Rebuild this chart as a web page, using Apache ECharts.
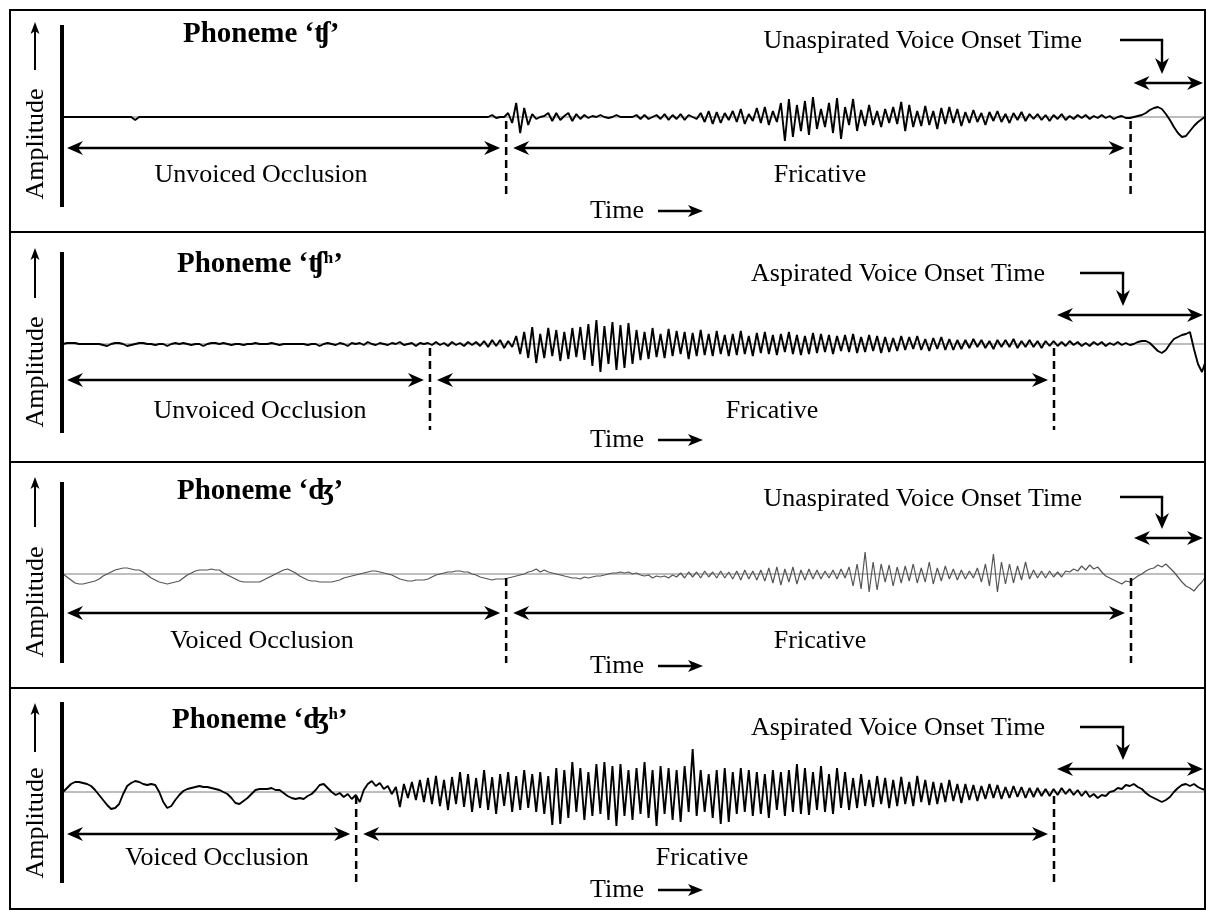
<!DOCTYPE html>
<html><head><meta charset="utf-8">
<script src="https://cdn.jsdelivr.net/npm/echarts@6/dist/echarts.min.js"></script>
<style>html,body{margin:0;padding:0;background:#fff}#c{width:1206px;height:910px}</style>
</head><body><div id="c"></div>
<script>
// ---- DATA: amplitude samples (relative units, + = up), one sample per time step ----
const wave1 = [
0,0,0,0,0,0,0,0,0,0,0,0,0,0,0,0,0,0,-3,0,
0,0,0,0,0,0,0,0,0,0,0,0,0,0,0,0,0,0,0,0,
0,0,0,0,0,0,0,0,0,0,0,0,0,0,0,0,0,0,0,0,
0,0,0,0,0,0,0,0,0,0,0,0,0,0,0,0,0,0,0,0,
0,0,0,0,0,0,0,0,0,0,0,0,0,0,0,0,0,0,0,0,
0,0,0,0,0,0,0,
2,-1,0,0,4,-6,14,-16,9,-8,3,-2,0,1,
4,-4,4,-3,1,4,-4,3,-2,2,-1,1,0,2,0,-1,0,2,0,0,0,0,2,-2,2,-2,0,2,-2,3,-3,2,-2,3,-3,2,0,-2,
4,-5,6,-7,5,-6,4,-3,6,-5,8,-7,3,-4,9,-6,10,-8,6,-5,
14,-24,18,-20,12,-14,16,-18,20,-12,8,-10,14,-16,19,-22,10,-8,18,-14,7,-9,12,-8,6,-10,8,-6,10,-7,
15,-14,12,-10,6,-9,11,-8,6,-12,9,-7,10,-6,8,-9,5,-6,7,-5,4,-8,5,-4,6,-5,3,-6,4,-3,5,-4,3,-2,3,-3,2,-4,2,-2,
3,-3,1,-2,2,-1,2,-2,1,-1,2,-1,1,-2,0,1,-1,-1,
0,1,2,4,7,9,10,8,3,-3,-10,-16,-20,-19,-14,-9,-5,-2,1
];
const wave2 = [
0,1,1,1,0,0,0,0,0,0,
-1,-2,0,1,1,0,-2,-1,0,1,1,0,0,-1,0,0,-2,0,1,0,
1,0,-1,0,0,-2,0,1,1,0,1,0,-1,0,0,-1,0,0,1,0,
0,0,1,0,-1,0,0,0,0,0,0,-1,0,0,-2,0,1,0,-1,1,
0,-2,1,0,1,-1,2,0,-1,1,0,-1,1,0,2,-1,0,1,-2,1,0,1,
-1,2,-1,1,-2,2,-1,1,-2,2,-1,2,-2,
3,-3,4,-2,4,-4,3,-3,
8,-10,12,-14,17,-19,10,-14,16,-12,
14,-17,12,-15,16,-13,17,-16,
20,-22,24,-28,18,-20,22,-26,19,-24,21,-20,
14,-16,12,-15,16,-13,10,-14,15,-12,13,-10,12,-15,11,-12,14,
-11,10,-12,13,-10,9,-12,10,-11,13,-10,8,-12,11,-9,12,-10,9,-11,10,-8,12,-10,9,-11,8,-10,11,-9,10,
-8,9,-10,8,-7,9,-8,10,-9,7,-8,9,-7,8,-9,7,-8,6,-7,8,
-6,7,-5,8,-6,5,-7,6,-5,7,-6,5,-6,4,-5,
4,-4,5,-3,4,-4,3,-5,4,-3,4,-3,5,-4,3,-3,4,-3,3,-4,3,-2,3,
-2,2,-2,3,-1,2,-2,1,-2,2,-1,2,-2,1,-1,2,-1,1,-1,0,
2,3,3,1,-3,-7,-9,-6,0,5,7,9,10,12,-5,-20,-28,-16
];
const wave3 = [
0,-3,-6,-9,-10,-10,-9,-8,-7,-5,-2,0,2,4,5,6,6,5,4,4,
2,-1,-4,-6,-8,-9,-10,-9,-8,-7,-4,-1,1,3,4,4,4,5,4,4,
1,-1,-3,-5,-7,-8,-8,-8,-8,-8,-6,-4,-2,0,2,4,5,3,1,-2,
-4,-6,-7,-7,-8,-8,-8,-8,-7,-6,-4,-3,-2,-1,0,1,2,3,3,2,
1,0,-1,-3,-5,-6,-7,-7,-6,-6,-6,-5,-3,-1,0,1,2,2,3,3,
2,2,0,-1,-3,-4,-5,-6,-5,-5,-5,-4,-3,-2,-1,0,2,3,5,2,
4,2,1,0,-1,-2,-3,-4,-4,-5,-3,-4,-3,-2,-2,-1,0,1,1,2,
1,2,0,1,-1,-2,-1,-4,-2,-3,-2,-4,-1,-3,1,-4,2,-3,2,-4,
3,-3,2,-4,3,-4,2,-5,3,-6,4,-5,3,-6,4,-7,6,-9,7,-11,
5,-8,7,-10,4,-6,5,-5,4,-5,3,-4,4,-5,5,-4,7,-12,10,-15,
22,-18,12,-16,10,-8,9,-12,7,-9,8,-7,10,-9,6,-8,12,-10,6,-7,
8,-5,5,-6,4,-5,3,-4,6,-8,10,-12,20,-18,12,-10,10,-9,8,-6,
12,-5,4,-4,3,-4,3,-3,2,-3,3,2,5,3,8,4,9,5,7,2,
-2,-4,-6,-8,-10,-7,-8,-5,-2,0,3,5,6,9,7,10,6,2,-3,-8,
-12,-14,-17,-12,-8,-2
];
const wave4 = [
0,4,8,10,10,9,8,6,2,-3,-8,-13,-17,-16,-12,-2,6,9,11,10,
8,7,8,7,0,-10,-16,-14,-8,-3,1,3,4,5,6,5,5,4,3,2,
0,-2,-6,-11,-12,-9,-6,-2,2,3,3,3,4,2,2,-1,-4,-6,-7,-6,
-7,-4,-2,2,7,8,4,0,-3,-1,-5,-2,-7,-3,-10,2,8,11,6,9,
3,6,-2,5,-15,8,-6,10,-8,12,-10,14,-12,16,-14,12,-18,15,-12,20,
-15,18,-20,14,-16,22,-18,15,-22,18,-14,20,-20,16,-18,22,-16,18,-20,20,
-22,16,-33,24,-32,22,-26,30,-20,24,-28,20,-24,28,-22,30,-28,26,-34,28,
-24,22,-28,24,-22,30,-26,22,-34,26,-22,24,-28,22,-30,26,-20,43,-24,22,
-20,18,-26,22,-32,24,-30,20,-22,24,-20,22,-24,20,-22,18,-26,22,-18,20,
-24,22,-20,28,-22,24,-23,20,-18,26,-20,18,-22,24,-16,20,-18,14,-16,18,
-14,12,-15,16,-12,14,-16,12,-14,15,-12,10,-14,16,-10,12,-13,10,-12,9,
-10,12,-9,8,-11,8,-8,7,-9,6,-7,8,-6,7,-7,5,-6,6,-5,5,
-6,4,-5,4,-4,3,-4,3,-3,4,-2,3,-3,2,-4,1,-5,-2,-6,-3,
-4,0,1,4,3,7,6,8,5,3,-1,-4,-6,-8,-10,-8,-5,0,4,7,
8,6,8,5,3,2
];
// segment boundaries (sample index): [occlusion|fricative, fricative|voicing]
const bounds1 = [110.5, 266.2];
const bounds2 = [91.5, 247.1];
const bounds3 = [110.5, 266.3];
const bounds4 = [73.1, 247.1];
// texts
const titleMain = ['Phoneme ‘ʧ’', 'Phoneme ‘ʧ', 'Phoneme ‘ʤ’', 'Phoneme ‘ʤ'];
const titleSup = ['', 'h', '', 'h'];
const occlusionLabels = ['Unvoiced Occlusion', 'Unvoiced Occlusion', 'Voiced Occlusion', 'Voiced Occlusion'];
const fricativeLabel = 'Fricative';
const votLabels = ['Unaspirated Voice Onset Time', 'Aspirated Voice Onset Time', 'Unaspirated Voice Onset Time', 'Aspirated Voice Onset Time'];
const yAxisLabel = 'Amplitude';
const xAxisLabel = 'Time';

// ---- LAYOUT ----
const waves = [wave1, wave2, wave3, wave4];
const bounds = [bounds1, bounds2, bounds3, bounds4];
const base = [117, 344, 574, 792];
const arrowY = [148, 380, 613, 834];
const labelY = [175, 411, 641, 858];
const timeY = [211, 440, 666, 890];
const titleY = [35, 265, 492, 721];
const titleX = [183, 177, 177, 172];
const votY = [41, 274, 499, 728];
const votRight = [1082, 1045, 1082, 1045];
const votArrY = [83, 315, 538, 769];
const bentY = [40, 273, 497, 727];
const bentX0 = [1120, 1080, 1120, 1080];
const bentX1 = [1162, 1123, 1162, 1123];
const occX = [261, 260, 262, 217];
const fricX = [820, 772, 820, 702];
const barY = [[25, 207], [252, 433], [482, 663], [702, 883]];
const ampCY = [144, 372, 602, 823];
const ampArr = [[22, 70], [248, 298], [477, 527], [703, 752]];
const SERIF = '"Liberation Serif", "Times New Roman", "DejaVu Serif", serif';

const chart = echarts.init(document.getElementById('c'), null, {renderer: 'canvas'});
const grids = [], xAxes = [], yAxes = [], series = [];
waves.forEach((w, k) => {
  grids.push({left: 63, width: 1143, top: base[k] - 60, height: 120});
  xAxes.push({type: 'value', gridIndex: k, min: 0, max: w.length - 1, show: false});
  yAxes.push({type: 'value', gridIndex: k, min: -60, max: 60, show: false});
  series.push({type: 'line', xAxisIndex: k, yAxisIndex: k, data: [[0, 0], [w.length - 1, 0]],
    symbol: 'none', lineStyle: {color: '#a8a8a8', width: 1.5}, z: 1, silent: true});
  series.push({type: 'line', xAxisIndex: k, yAxisIndex: k, data: w.map((v, i) => [i, v]),
    symbol: 'none',
    lineStyle: {color: k === 2 ? '#555' : '#000', width: k === 2 ? 1.2 : 1.9}, z: 2, silent: true});
});
chart.setOption({animation: false, grid: grids, xAxis: xAxes, yAxis: yAxes, series: series});

const g = [];
function L(x1, y1, x2, y2, w, dash) {
  g.push({type: 'line', silent: true, z: 10, shape: {x1, y1, x2, y2},
    style: {stroke: '#000', lineWidth: w, lineDash: dash || null}});
}
function head(x, y, dir, len, half, notch) {
  len = len || 16; half = half || 7; notch = notch || 5;
  let pts;
  if (dir === 'r') pts = [[x, y], [x - len, y - half], [x - len + notch, y], [x - len, y + half]];
  else if (dir === 'l') pts = [[x, y], [x + len, y - half], [x + len - notch, y], [x + len, y + half]];
  else if (dir === 'd') pts = [[x, y], [x - half, y - len], [x, y - len + notch], [x + half, y - len]];
  else pts = [[x, y], [x - half, y + len], [x, y + len - notch], [x + half, y + len]];
  g.push({type: 'polygon', silent: true, z: 11, shape: {points: pts}, style: {fill: '#000'}});
}
function dbl(x1, x2, y) { L(x1 + 4, y, x2 - 4, y, 2.6); head(x1, y, 'l'); head(x2, y, 'r'); }
function T(x, y, text, size, align, extra) {
  g.push(Object.assign({type: 'text', silent: true, z: 12, x: x, y: y,
    style: {text: text, fill: '#000', font: size + 'px ' + SERIF, align: align || 'center', verticalAlign: 'middle'}}, extra || {}));
}

// frame
g.push({type: 'rect', silent: true, z: 9, shape: {x: 10, y: 10, width: 1195, height: 899},
  style: {fill: null, stroke: '#000', lineWidth: 2}});
[232, 462, 688].forEach(y => L(10, y, 1206, y, 2));

waves.forEach((w, k) => {
  const p1 = chart.convertToPixel({gridIndex: k}, [bounds[k][0], 0]);
  const p2 = chart.convertToPixel({gridIndex: k}, [bounds[k][1], 0]);
  const p0 = chart.convertToPixel({gridIndex: k}, [0, 0]);
  const pe = chart.convertToPixel({gridIndex: k}, [w.length - 1, 0]);
  const d1 = p1[0], d2 = p2[0];
  L(62, barY[k][0], 62, barY[k][1], 4);
  T(36, ampCY[k], yAxisLabel, 26, 'center', {rotation: Math.PI / 2});
  L(35, ampArr[k][0] + 6, 35, ampArr[k][1], 2);
  head(35, ampArr[k][0], 'u', 12, 4.5, 3);
  L(d1, p1[1] + 4, d1, arrowY[k] + 50, 2.5, [8, 5]);
  L(d2, p2[1] + 4, d2, arrowY[k] + 50, 2.5, [8, 5]);
  dbl(p0[0] + 4, d1 - 6, arrowY[k]);
  dbl(d1 + 7, d2 - 6, arrowY[k]);
  dbl(d2 + 3, pe[0] - 3, votArrY[k]);
  L(bentX0[k], bentY[k], bentX1[k] + 1.2, bentY[k], 2.4);
  L(bentX1[k], bentY[k], bentX1[k], votArrY[k] - 20, 2.4);
  head(bentX1[k], votArrY[k] - 9, 'd', 16, 7, 5);
  T(occX[k], labelY[k], occlusionLabels[k], 26);
  T(fricX[k], labelY[k], fricativeLabel, 26);
  T(590, timeY[k], xAxisLabel, 26, 'left');
  L(658, timeY[k], 692, timeY[k], 2.6);
  head(703, timeY[k], 'r', 15, 6, 4);
  T(votRight[k], votY[k], votLabels[k], 26, 'right');
  const rich = {
    a: {fontFamily: SERIF, fontWeight: 'bold', fontSize: 29, fill: '#000'},
    s: {fontFamily: SERIF, fontWeight: 'bold', fontSize: 17, fill: '#000', verticalAlign: 'top', padding: [0, 0, 12, 0]}
  };
  const txt = titleSup[k] ? '{a|' + titleMain[k] + '}{s|' + titleSup[k] + '}{a|’}' : '{a|' + titleMain[k] + '}';
  g.push({type: 'text', silent: true, z: 12, x: titleX[k], y: titleY[k],
    style: {text: txt, rich: rich, align: 'left', verticalAlign: 'middle', font: 'bold 29px ' + SERIF, fill: '#000'}});
});

chart.setOption({graphic: {elements: g}});
</script>
</body></html>
